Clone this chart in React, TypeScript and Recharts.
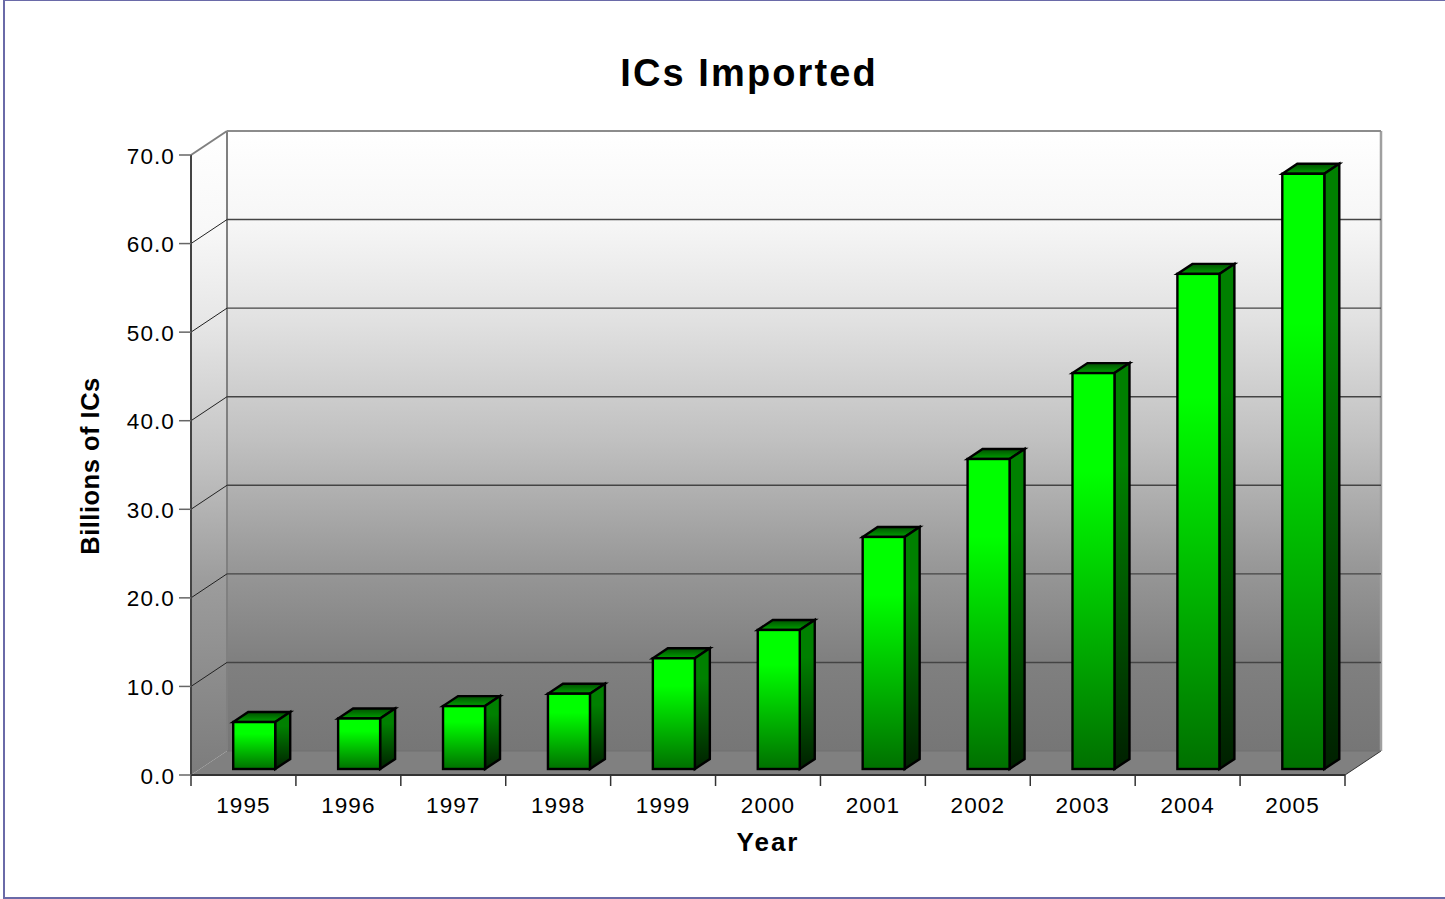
import { BarChart, Bar, XAxis, YAxis, CartesianGrid, Label } from 'recharts';

const YEARS = ['1995', '1996', '1997', '1998', '1999', '2000', '2001', '2002', '2003', '2004', '2005'];
const IMPORTS = [5.3, 5.7, 7.1, 8.5, 12.5, 15.7, 26.2, 35.0, 44.7, 55.9, 67.2];
const Y_TICKS = [0, 10, 20, 30, 40, 50, 60, 70];

const chartData = YEARS.map((year, i) => ({ year, value: IMPORTS[i] }));

// plot area
const LEFT = 191;
const RIGHT = 1345;
const TOP = 155;
const BOTTOM = 775;
// depth of the fake 3d box
const DX = 36;
const DY = -24;
const FONT = '"Liberation Sans", Arial, sans-serif';

function Bar3D(props: any) {
  const { x, y, width, height } = props;
  const fx = x + 11;
  const fy = y - 6;
  const dx = 15;
  const dy = -10;
  const r = fx + width;
  const b = fy + height;
  return (
    <g stroke="#000" strokeWidth={2.4} strokeLinejoin="miter">
      <polygon points={`${fx},${fy} ${r},${fy} ${r + dx},${fy + dy} ${fx + dx},${fy + dy}`} fill="url(#barTop)" />
      <polygon points={`${r},${fy} ${r + dx},${fy + dy} ${r + dx},${b + dy} ${r},${b}`} fill="url(#barSide)" />
      <rect x={fx} y={fy} width={width} height={height} fill="url(#barFront)" />
    </g>
  );
}

function GridLine(props: any) {
  const { x1, y1, x2 } = props;
  if (Math.abs(y1 - BOTTOM) < 1) return <g />;
  const isTop = Math.abs(y1 - TOP) < 1;
  const back = y1 + DY;
  return (
    <g fill="none">
      <line x1={x1} y1={y1} x2={x1 + DX} y2={back} stroke={isTop ? '#808080' : '#222'} strokeWidth={isTop ? 2 : 1} />
      <line x1={x1 + DX} y1={back} x2={x2 + DX} y2={back} stroke={isTop ? '#8c8c8c' : '#444'} strokeWidth={isTop ? 2 : 1.4} />
    </g>
  );
}

function YearTick(props: any) {
  const { x, payload, index } = props;
  const step = (RIGHT - LEFT) / YEARS.length;
  const left = x - step / 2;
  return (
    <g>
      <line x1={left} y1={BOTTOM} x2={left} y2={BOTTOM + 11} stroke="#333" strokeWidth={1.5} />
      {index === YEARS.length - 1 && (
        <line x1={left + step} y1={BOTTOM} x2={left + step} y2={BOTTOM + 11} stroke="#333" strokeWidth={1.5} />
      )}
      <text x={x} y={BOTTOM + 38} textAnchor="middle" fontFamily={FONT} fontSize={22.5} letterSpacing={1.1} fill="#000">
        {payload.value}
      </text>
    </g>
  );
}

function ValueTick(props: any) {
  const { y, payload } = props;
  return (
    <g>
      <line x1={LEFT - 12} y1={y} x2={LEFT} y2={y} stroke="#666" strokeWidth={1.5} />
      <text x={LEFT - 16} y={y + 8.5} textAnchor="end" fontFamily={FONT} fontSize={22.5} letterSpacing={1.1} fill="#000">
        {Number(payload.value).toFixed(1)}
      </text>
    </g>
  );
}

export default function App() {
  return (
    <div style={{ position: 'absolute', left: 0, top: 0, width: 1445, height: 899, background: '#fff', overflow: 'hidden' }}>
      <div style={{ position: 'absolute', left: 3, top: 0, width: 1445, height: 899, border: '2px solid #6a6aa8', borderTopWidth: 1.5, boxSizing: 'border-box' }} />
      {/* box behind the bars, separate svg so the chart grid lands on top of it */}
      <svg width={1445} height={899} style={{ position: 'absolute', left: 0, top: 0 }}>
        <defs>
          <linearGradient id="wall" x1="0" y1="0" x2="0" y2="1">
            <stop offset="0" stopColor="#ffffff" />
            <stop offset="0.15" stopColor="#f6f6f6" />
            <stop offset="0.3" stopColor="#e2e2e2" />
            <stop offset="0.5" stopColor="#c0c0c0" />
            <stop offset="0.7" stopColor="#989898" />
            <stop offset="0.85" stopColor="#808080" />
            <stop offset="1" stopColor="#767676" />
          </linearGradient>
          <linearGradient id="sideWall" x1="0" y1="0" x2="0" y2="1">
            <stop offset="0" stopColor="#ffffff" />
            <stop offset="0.15" stopColor="#f8f8f8" />
            <stop offset="0.3" stopColor="#e6e6e6" />
            <stop offset="0.5" stopColor="#c4c4c4" />
            <stop offset="0.7" stopColor="#9c9c9c" />
            <stop offset="1" stopColor="#7c7c7c" />
          </linearGradient>
        </defs>
        <polygon points={`${LEFT + DX},${TOP + DY} ${RIGHT + DX},${TOP + DY} ${RIGHT + DX},${BOTTOM + DY} ${LEFT + DX},${BOTTOM + DY}`} fill="url(#wall)" />
        <polygon points={`${LEFT},${TOP} ${LEFT + DX},${TOP + DY} ${LEFT + DX},${BOTTOM + DY} ${LEFT},${BOTTOM}`} fill="url(#sideWall)" />
        <polygon points={`${LEFT},${BOTTOM} ${RIGHT},${BOTTOM} ${RIGHT + DX},${BOTTOM + DY} ${LEFT + DX},${BOTTOM + DY}`} fill="#808080" />
        <line x1={LEFT + DX} y1={TOP + DY} x2={LEFT + DX} y2={BOTTOM + DY} stroke="#808080" strokeWidth={2} />
        <line x1={RIGHT + DX} y1={TOP + DY} x2={RIGHT + DX} y2={BOTTOM + DY} stroke="#a0a0a0" strokeWidth={2.5} />
        <line x1={RIGHT} y1={BOTTOM} x2={RIGHT + DX} y2={BOTTOM + DY} stroke="#333" strokeWidth={1} />
        <line x1={LEFT + DX} y1={BOTTOM + DY} x2={RIGHT + DX} y2={BOTTOM + DY} stroke="#707070" strokeWidth={1} />
        <text x={749} y={86} textAnchor="middle" fontFamily={FONT} fontSize={38} fontWeight={700} letterSpacing={2.1} fill="#000">
          ICs Imported
        </text>
        <text
          transform="translate(99 466) rotate(-90)"
          textAnchor="middle"
          fontFamily={FONT}
          fontSize={25.5}
          fontWeight={700}
          letterSpacing={0.5}
          fill="#000"
        >
          Billions of ICs
        </text>
      </svg>
      <BarChart
        width={1445}
        height={899}
        data={chartData}
        margin={{ top: TOP, right: 1445 - RIGHT, bottom: 0, left: 0 }}
        barCategoryGap="29.75%"
        style={{ position: 'absolute', left: 0, top: 0 }}
      >
        <defs>
          <linearGradient id="barFront" x1="0" y1="0" x2="0" y2="1">
            <stop offset="0" stopColor="#00ff00" />
            <stop offset="0.25" stopColor="#00ff00" />
            <stop offset="1" stopColor="#007000" />
          </linearGradient>
          <linearGradient id="barSide" x1="0" y1="0" x2="0" y2="1">
            <stop offset="0" stopColor="#008000" />
            <stop offset="0.25" stopColor="#008000" />
            <stop offset="1" stopColor="#002000" />
          </linearGradient>
          <linearGradient id="barTop" x1="0" y1="0" x2="0" y2="1">
            <stop offset="0" stopColor="#005000" />
            <stop offset="1" stopColor="#00a000" />
          </linearGradient>
        </defs>
        <CartesianGrid vertical={false} horizontal={(p: any) => <GridLine key={p.key} {...p} />} />
        <XAxis
          dataKey="year"
          tick={<YearTick />}
          tickLine={false}
          interval={0}
          axisLine={{ stroke: '#333', strokeWidth: 2 }}
          height={124}
        >
          <Label
            content={() => (
              <text x={768} y={851} textAnchor="middle" fontFamily={FONT} fontSize={26} fontWeight={700} letterSpacing={2} fill="#000">
                Year
              </text>
            )}
          />
        </XAxis>
        <YAxis
          domain={[0, 70]}
          ticks={Y_TICKS}
          tick={<ValueTick />}
          tickLine={false}
          axisLine={{ stroke: '#444', strokeWidth: 2 }}
          width={191}
          interval={0}
        />
        <Bar dataKey="value" shape={<Bar3D />} isAnimationActive={false} />
      </BarChart>
    </div>
  );
}
